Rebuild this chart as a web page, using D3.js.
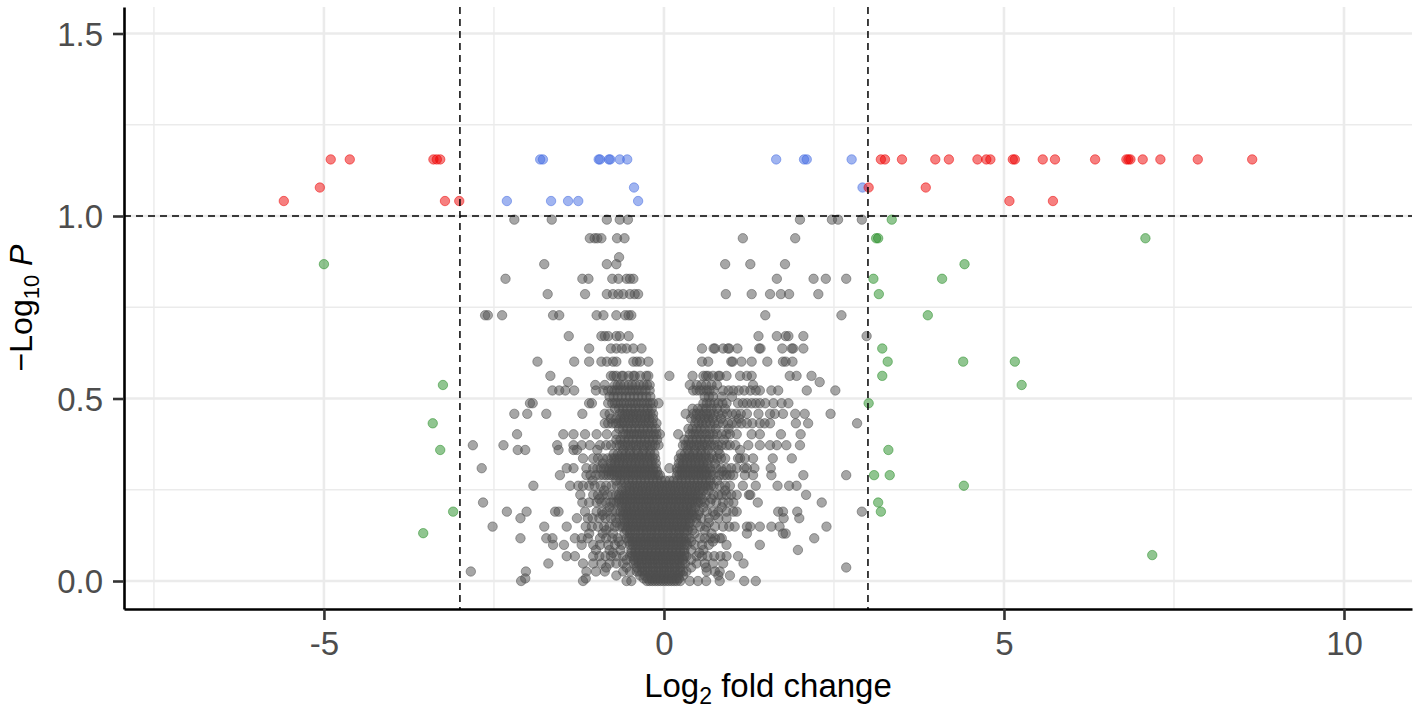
<!DOCTYPE html>
<html lang="en">
<head>
<meta charset="UTF-8">
<title>Volcano plot</title>
<script src="https://cdn.jsdelivr.net/npm/d3@7"></script>
<style>
  body { margin: 0; background: #fff; }
  svg text { font-family: "Liberation Sans", Arial, sans-serif; }
</style>
</head>
<body>
<div id="viz"></div>
<script>
// ticks and cut-offs
var xTicks = [-5, 0, 5, 10];
var yTicks = [0, 0.5, 1.0, 1.5];
var xMinor = [-7.5, -2.5, 2.5, 7.5];
var yMinor = [0.25, 0.75, 1.25];
var fcCutoff = 3;   // |log2 FC|
var pCutoff = 1;    // -log10 P

// NS genes (grey): -log10 P levels and the log2 fold changes read on each level
var nsLevels = [0.990, 0.939, 0.887, 0.868, 0.828, 0.786, 0.728, 0.671, 0.637, 0.601,
  0.562, 0.545, 0.537, 0.522, 0.505, 0.487, 0.472, 0.458, 0.445, 0.432,
  0.417, 0.402, 0.387, 0.372, 0.359, 0.348, 0.336, 0.322, 0.309, 0.300,
  0.290, 0.275, 0.261, 0.248, 0.236, 0.225, 0.215, 0.202, 0.190, 0.181,
  0.172, 0.160, 0.149, 0.139, 0.130, 0.117, 0.108, 0.099, 0.085, 0.077,
  0.068, 0.058, 0.048, 0.037, 0.026, 0.015, 0.007, 0.000];
var nsFoldChanges = [
  [-2.20, -1.65, -0.84, -0.65, -0.53, 2.00, 2.47, 2.56, 2.91],
  [-1.09, -1.02, -0.98, -0.92, -0.69, -0.58, 1.16, 1.93],
  [-0.66],
  [-1.76, -0.84, -0.70, 0.90, 1.27, 1.78],
  [-2.33, -1.20, -1.11, -0.76, -0.67, -0.55, -0.50, -0.45, 1.66, 2.20, 2.38, 2.68],
  [-1.71, -1.16, -0.84, -0.75, -0.67, -0.60, -0.50, -0.43, -0.38, 0.91, 1.29, 1.56, 1.72, 1.84, 2.27],
  [-2.63, -2.59, -2.38, -1.63, -1.54, -0.99, -0.89, -0.70, -0.57, -0.52, -0.48, 1.49, 2.61],
  [-1.40, -0.92, -0.87, -0.82, -0.70, -0.65, -0.52, 1.39, 1.66, 1.79, 1.83, 2.05, 2.98],
  [-1.10, -0.78, -0.70, -0.62, -0.55, -0.45, -0.33, 0.56, 0.73, 0.75, 0.87, 0.94, 0.96, 1.08, 1.40, 1.42, 1.74, 1.88, 1.90, 2.05],
  [-1.86, -1.32, -1.10, -0.92, -0.84, -0.75, -0.70, -0.45, -0.40, -0.35, -0.23, 0.56, 0.65, 0.99, 1.01, 1.14, 1.29, 1.52, 1.75, 1.79, 1.89],
  [-1.67, -0.78, -0.74, -0.70, -0.62, -0.60, -0.52, -0.45, -0.43, -0.35, -0.26, -0.23, 0.08, 0.42, 0.58, 0.62, 0.65, 0.72, 0.80, 0.82, 0.92, 1.12, 1.22, 1.29, 1.85, 1.95, 2.17],
  [-1.41, 2.29],
  [-1.01, -0.87, -0.72, -0.68, -0.64, -0.58, -0.52, -0.47, -0.42, -0.36, -0.30, -0.25, -0.21, 0.38, 0.48, 0.55, 0.62, 0.70, 0.78, 1.31],
  [-1.64, -1.54, -1.45, -1.32, -1.00, -0.89, -0.82, -0.77, -0.73, -0.69, -0.64, -0.59, -0.55, -0.50, -0.46, -0.41, -0.37, -0.32, -0.27, -0.21, 0.43, 0.48, 0.53, 0.58, 0.63, 0.67, 0.73, 0.87, 0.95, 1.02, 1.10, 1.18, 1.27, 1.35, 1.41, 1.58, 1.68, 2.10, 2.52],
  [-0.80, -0.74, -0.68, -0.62, -0.56, -0.50, -0.44, -0.38, -0.32, -0.26, -0.20, 0.60, 0.66, 0.72, 0.85, 1.00],
  [-1.97, -1.93, -1.10, -1.06, -0.82, -0.76, -0.72, -0.68, -0.63, -0.59, -0.55, -0.50, -0.46, -0.42, -0.38, -0.33, -0.29, -0.24, -0.20, -0.16, -0.08, 0.58, 0.63, 0.68, 0.74, 0.80, 0.86, 0.92, 1.09, 1.16, 1.22, 1.29, 1.35, 1.41, 1.49, 1.61, 1.73, 1.83],
  [-0.72, -0.66, -0.60, -0.54, -0.48, -0.42, -0.36, -0.30, -0.24, -0.18, 0.42, 0.50, 0.56, 0.62, 0.70, 0.78, 0.90],
  [-2.20, -2.01, -1.73, -1.20, -0.87, -0.80, -0.65, -0.61, -0.57, -0.53, -0.49, -0.45, -0.41, -0.37, -0.33, -0.28, -0.24, -0.20, -0.16, 0.32, 0.43, 0.48, 0.53, 0.58, 0.63, 0.68, 0.73, 0.80, 0.86, 0.93, 1.00, 1.06, 1.13, 1.22, 1.39, 1.56, 1.63, 1.75, 1.93, 2.07, 2.45],
  [-0.78, -0.70, -0.64, -0.58, -0.52, -0.46, -0.40, -0.34, -0.28, -0.22, -0.16, 0.40, 0.47, 0.54, 0.60, 0.66, 0.72, 0.84, 1.10],
  [-0.87, -0.82, -0.76, -0.71, -0.67, -0.62, -0.58, -0.53, -0.49, -0.44, -0.40, -0.35, -0.31, -0.26, -0.22, -0.17, -0.11, 0.46, 0.51, 0.56, 0.62, 0.68, 0.74, 0.80, 0.87, 0.94, 1.00, 1.07, 1.14, 1.22, 1.30, 1.41, 1.48, 1.56, 1.94, 2.12, 2.84],
  [-0.66, -0.60, -0.54, -0.48, -0.42, -0.36, -0.30, -0.24, -0.18, -0.12, 0.36, 0.42, 0.48, 0.54, 0.60, 0.68, 0.76, 0.95],
  [-2.16, -1.48, -1.33, -1.16, -0.99, -0.84, -0.70, -0.60, -0.56, -0.52, -0.48, -0.44, -0.40, -0.36, -0.32, -0.28, -0.24, -0.20, -0.15, -0.11, -0.06, 0.21, 0.38, 0.43, 0.47, 0.52, 0.57, 0.62, 0.67, 0.72, 0.78, 0.85, 0.92, 0.97, 1.07, 1.29, 1.41, 1.72, 2.01],
  [-0.70, -0.64, -0.58, -0.52, -0.46, -0.40, -0.34, -0.28, -0.22, -0.16, -0.10, 0.30, 0.36, 0.42, 0.48, 0.54, 0.60, 0.66, 0.74, 0.88],
  [-2.81, -2.36, -1.57, -1.33, -1.21, -1.09, -0.94, -0.85, -0.78, -0.70, -0.65, -0.61, -0.57, -0.53, -0.49, -0.45, -0.41, -0.37, -0.33, -0.29, -0.25, -0.21, -0.17, -0.13, -0.08, 0.28, 0.32, 0.36, 0.40, 0.44, 0.48, 0.52, 0.56, 0.60, 0.64, 0.69, 0.74, 0.79, 0.85, 0.92, 0.97, 1.05, 1.24, 1.41, 1.56, 1.66, 1.80, 2.00],
  [-2.15, -2.04, -1.55, -1.33, -1.28, -0.98, -0.60, -0.50, -0.40, -0.30, -0.20, 0.35, 0.45, 0.55, 0.65, 0.80, 1.12],
  [-0.74, -0.68, -0.62, -0.56, -0.50, -0.44, -0.38, -0.32, -0.26, -0.20, -0.14, 0.25, 0.31, 0.37, 0.43, 0.49, 0.55, 0.61, 0.70, 0.82],
  [-1.19, -1.04, -0.97, -0.90, -0.83, -0.77, -0.73, -0.69, -0.65, -0.61, -0.57, -0.53, -0.49, -0.45, -0.41, -0.37, -0.33, -0.29, -0.25, -0.21, -0.17, -0.13, 0.22, 0.26, 0.30, 0.34, 0.38, 0.42, 0.46, 0.50, 0.54, 0.58, 0.62, 0.67, 0.72, 0.78, 0.84, 0.90, 1.09, 1.12, 1.19, 1.31, 1.60, 1.88],
  [-0.90, -0.78, -0.72, -0.66, -0.60, -0.54, -0.48, -0.42, -0.36, -0.30, -0.24, -0.18, -0.12, 0.22, 0.28, 0.34, 0.40, 0.46, 0.52, 0.58, 0.64, 0.75],
  [-2.68, -1.43, -1.33, -1.14, -1.04, -0.98, -0.93, -0.88, -0.84, -0.80, -0.76, -0.72, -0.68, -0.64, -0.60, -0.56, -0.52, -0.48, -0.44, -0.40, -0.36, -0.32, -0.28, -0.24, -0.20, -0.16, -0.12, 0.08, 0.19, 0.23, 0.27, 0.31, 0.35, 0.39, 0.43, 0.47, 0.51, 0.55, 0.59, 0.63, 0.68, 0.77, 0.84, 0.92, 0.99, 1.07, 1.18, 1.22, 1.33, 1.57],
  [-0.82, -0.76, -0.70, -0.64, -0.58, -0.52, -0.46, -0.40, -0.34, -0.28, -0.22, -0.16, -0.10, 0.20, 0.26, 0.32, 0.38, 0.44, 0.50, 0.56, 0.62, 0.70, 0.86],
  [-1.53, -1.14, -1.08, -1.00, -0.94, -0.89, -0.85, -0.81, -0.77, -0.73, -0.69, -0.65, -0.61, -0.57, -0.53, -0.49, -0.45, -0.41, -0.37, -0.33, -0.29, -0.25, -0.21, -0.17, -0.13, -0.09, -0.06, 0.19, 0.23, 0.27, 0.31, 0.35, 0.39, 0.43, 0.47, 0.51, 0.55, 0.59, 0.63, 0.68, 0.73, 0.82, 0.88, 0.92, 0.97, 1.02, 1.19, 1.31, 1.58, 2.05, 2.68],
  [-1.05, -0.70, -0.64, -0.58, -0.52, -0.46, -0.40, -0.34, -0.28, -0.22, -0.16, -0.10, -0.04, 0.02, 0.08, 0.14, 0.20, 0.26, 0.32, 0.38, 0.44, 0.50, 0.56, 0.62, 0.68, 0.78],
  [-1.92, -1.38, -1.26, -1.19, -1.10, -1.02, -0.93, -0.85, -0.77, -0.69, -0.62, -0.55, -0.51, -0.47, -0.43, -0.39, -0.35, -0.31, -0.27, -0.23, -0.19, -0.15, -0.11, -0.07, -0.03, 0.01, 0.05, 0.09, 0.13, 0.17, 0.21, 0.25, 0.29, 0.33, 0.37, 0.41, 0.45, 0.49, 0.53, 0.57, 0.61, 0.65, 0.69, 0.73, 0.82, 0.90, 0.97, 1.16, 1.35, 1.67, 1.84, 1.95],
  [-0.88, -0.62, -0.56, -0.50, -0.44, -0.38, -0.32, -0.26, -0.20, -0.14, -0.08, -0.02, 0.04, 0.10, 0.16, 0.22, 0.28, 0.34, 0.40, 0.46, 0.52, 0.58, 0.66, 0.90],
  [-1.23, -1.04, -0.97, -0.90, -0.83, -0.76, -0.70, -0.66, -0.62, -0.58, -0.54, -0.50, -0.46, -0.42, -0.38, -0.34, -0.30, -0.26, -0.22, -0.18, -0.14, -0.10, -0.06, -0.02, 0.02, 0.06, 0.10, 0.14, 0.18, 0.22, 0.26, 0.30, 0.34, 0.38, 0.42, 0.46, 0.50, 0.54, 0.62, 0.73, 0.80, 0.85, 0.92, 0.99, 1.07, 1.25, 1.27, 2.09],
  [-0.95, -0.66, -0.60, -0.54, -0.48, -0.42, -0.36, -0.30, -0.24, -0.18, -0.12, -0.06, 0.00, 0.06, 0.12, 0.18, 0.24, 0.30, 0.36, 0.42, 0.48, 0.56, 0.70],
  [-2.66, -1.20, -1.10, -0.99, -0.92, -0.85, -0.78, -0.74, -0.70, -0.66, -0.62, -0.58, -0.54, -0.50, -0.46, -0.42, -0.38, -0.34, -0.30, -0.26, -0.22, -0.18, -0.14, -0.10, -0.06, -0.02, 0.02, 0.06, 0.10, 0.14, 0.18, 0.22, 0.26, 0.30, 0.34, 0.38, 0.42, 0.46, 0.50, 0.54, 0.60, 0.68, 0.77, 0.87, 0.95, 1.02, 1.38, 2.32],
  [-0.80, -0.62, -0.56, -0.50, -0.44, -0.38, -0.32, -0.26, -0.20, -0.14, -0.08, -0.02, 0.04, 0.10, 0.16, 0.22, 0.28, 0.34, 0.40, 0.46, 0.58, 0.85],
  [-2.31, -2.02, -1.60, -1.55, -1.16, -0.99, -0.91, -0.84, -0.76, -0.70, -0.64, -0.60, -0.56, -0.52, -0.48, -0.44, -0.40, -0.36, -0.32, -0.28, -0.24, -0.20, -0.16, -0.12, -0.08, -0.04, 0.00, 0.04, 0.08, 0.12, 0.16, 0.20, 0.24, 0.28, 0.32, 0.36, 0.40, 0.44, 0.52, 0.63, 0.72, 0.80, 0.92, 1.02, 1.07, 1.68, 1.75, 1.96, 2.91],
  [-0.90, -0.60, -0.54, -0.48, -0.42, -0.36, -0.30, -0.24, -0.18, -0.12, -0.06, 0.00, 0.06, 0.12, 0.18, 0.24, 0.30, 0.36, 0.42, 0.50, 0.75],
  [-2.11, -1.28, -1.12, -1.05, -0.95, -0.86, -0.78, -0.71, -0.65, -0.59, -0.55, -0.51, -0.47, -0.43, -0.39, -0.35, -0.31, -0.27, -0.23, -0.19, -0.15, -0.11, -0.07, -0.03, 0.01, 0.05, 0.09, 0.13, 0.17, 0.21, 0.25, 0.29, 0.33, 0.37, 0.41, 0.47, 0.55, 0.66, 0.80, 0.92, 1.76, 1.99],
  [-0.70, -0.58, -0.52, -0.46, -0.40, -0.34, -0.28, -0.22, -0.16, -0.10, -0.04, 0.02, 0.08, 0.14, 0.20, 0.26, 0.32, 0.38, 0.48, 0.66],
  [-2.52, -1.76, -1.43, -1.15, -1.06, -0.97, -0.88, -0.80, -0.72, -0.65, -0.61, -0.57, -0.53, -0.49, -0.45, -0.41, -0.37, -0.33, -0.29, -0.25, -0.21, -0.17, -0.13, -0.09, -0.05, -0.01, 0.03, 0.07, 0.11, 0.15, 0.19, 0.23, 0.27, 0.31, 0.35, 0.38, 0.53, 0.62, 0.75, 0.87, 0.96, 1.04, 1.22, 1.27, 1.41, 1.58, 1.70, 2.39],
  [-0.85, -0.55, -0.49, -0.43, -0.37, -0.31, -0.25, -0.19, -0.13, -0.07, -0.01, 0.05, 0.11, 0.17, 0.23, 0.29, 0.35, 0.42, 0.60],
  [-1.10, -0.90, -0.75, -0.58, -0.50, -0.42, -0.34, -0.26, -0.18, -0.10, -0.02, 0.06, 0.14, 0.22, 0.30, 0.45, 0.70, 1.22, 1.75, 1.79],
  [-2.11, -1.73, -1.64, -1.31, -1.21, -1.12, -0.94, -0.85, -0.76, -0.68, -0.55, -0.51, -0.47, -0.43, -0.39, -0.35, -0.31, -0.27, -0.23, -0.19, -0.15, -0.11, -0.07, -0.03, 0.01, 0.05, 0.09, 0.13, 0.17, 0.21, 0.25, 0.29, 0.33, 0.38, 0.53, 0.60, 0.68, 0.75, 0.82, 0.85, 2.21],
  [-0.66, -0.52, -0.46, -0.40, -0.34, -0.28, -0.22, -0.16, -0.10, -0.04, 0.02, 0.08, 0.14, 0.20, 0.26, 0.32, 0.40, 0.72],
  [-1.63, -1.47, -1.21, -1.04, -0.94, -0.82, -0.72, -0.62, -0.50, -0.46, -0.42, -0.38, -0.34, -0.30, -0.26, -0.22, -0.18, -0.14, -0.10, -0.06, -0.02, 0.02, 0.06, 0.10, 0.14, 0.18, 0.22, 0.26, 0.30, 0.34, 0.45, 0.56, 0.66, 0.92, 1.41],
  [-1.00, -0.80, -0.64, -0.48, -0.42, -0.36, -0.30, -0.24, -0.18, -0.12, -0.06, 0.00, 0.06, 0.12, 0.18, 0.24, 0.30, 0.40, 0.58, 1.97],
  [-0.75, -0.48, -0.42, -0.36, -0.30, -0.24, -0.18, -0.12, -0.06, 0.00, 0.06, 0.12, 0.18, 0.24, 0.30, 0.52],
  [-1.43, -1.31, -1.04, -0.95, -0.86, -0.78, -0.70, -0.60, -0.50, -0.46, -0.42, -0.38, -0.34, -0.30, -0.26, -0.22, -0.18, -0.14, -0.10, -0.06, -0.02, 0.02, 0.06, 0.10, 0.14, 0.18, 0.22, 0.26, 0.30, 0.33, 0.48, 0.56, 0.64, 0.74, 0.83, 0.92, 1.09],
  [-0.55, -0.44, -0.38, -0.32, -0.26, -0.20, -0.14, -0.08, -0.02, 0.04, 0.10, 0.16, 0.22, 0.28, 0.40],
  [-1.70, -1.19, -1.04, -0.92, -0.80, -0.70, -0.60, -0.45, -0.41, -0.37, -0.33, -0.29, -0.25, -0.21, -0.17, -0.13, -0.09, -0.05, -0.01, 0.03, 0.07, 0.11, 0.15, 0.19, 0.23, 0.27, 0.31, 0.48, 0.60, 0.72, 0.87, 1.17],
  [-0.85, -0.55, -0.40, -0.32, -0.24, -0.16, -0.08, 0.00, 0.08, 0.16, 0.24, 0.40, 0.62, 2.68],
  [-2.84, -2.03, -1.14, -1.00, -0.87, -0.60, -0.50, -0.40, -0.36, -0.32, -0.28, -0.24, -0.20, -0.16, -0.12, -0.08, -0.04, 0.00, 0.04, 0.08, 0.12, 0.16, 0.20, 0.24, 0.28, 0.33, 0.63, 0.75, 0.82],
  [-0.70, -0.35, -0.28, -0.21, -0.14, -0.07, 0.00, 0.07, 0.14, 0.21, 0.28, 0.80, 0.97],
  [-2.04, -1.15, -0.30, -0.24, -0.18, -0.12, -0.06, 0.00, 0.06, 0.12, 0.18, 0.22],
  [-2.10, -1.19, -0.55, -0.48, -0.25, -0.21, -0.17, -0.13, -0.09, -0.05, -0.01, 0.03, 0.07, 0.11, 0.15, 0.19, 0.24, 0.38, 0.50, 0.62, 0.82, 1.18, 1.35]
];

// log2 FC only (green): [log2FC, -log10P]
var fcOnly = [[-5.00, 0.868], [-3.25, 0.537], [-3.40, 0.432], [-3.29, 0.359], [-3.10, 0.190], [-3.54, 0.131],
  [3.35, 0.990], [3.12, 0.939], [3.15, 0.939], [7.08, 0.939], [4.42, 0.868], [3.08, 0.828], [4.09, 0.828],
  [3.16, 0.786], [3.88, 0.728], [3.21, 0.637], [3.29, 0.601], [4.40, 0.601], [5.16, 0.601], [3.21, 0.562],
  [5.26, 0.537], [3.01, 0.487], [3.30, 0.359], [3.09, 0.290], [3.32, 0.290], [4.41, 0.261], [3.15, 0.215],
  [3.19, 0.190], [7.18, 0.071]];

// P only (blue)
var pOnly = [[-1.82, 1.155], [-1.78, 1.155], [-0.96, 1.155], [-0.94, 1.155], [-0.81, 1.155], [-0.79, 1.155],
  [-0.65, 1.155], [-0.54, 1.155], [1.65, 1.155], [2.06, 1.155], [2.10, 1.155], [2.76, 1.155],
  [-0.44, 1.078], [2.92, 1.078],
  [-2.31, 1.041], [-1.66, 1.041], [-1.41, 1.041], [-1.26, 1.041], [-0.38, 1.041]];

// P and log2 FC (red)
var fcAndP = [[-4.90, 1.155], [-4.62, 1.155], [-3.39, 1.155], [-3.34, 1.155], [-3.29, 1.155],
  [3.19, 1.155], [3.25, 1.155], [3.50, 1.155], [3.99, 1.155], [4.19, 1.155], [4.61, 1.155], [4.74, 1.155],
  [4.80, 1.155], [5.13, 1.155], [5.16, 1.155], [5.57, 1.155], [5.75, 1.155], [6.34, 1.155], [6.80, 1.155],
  [6.83, 1.155], [6.86, 1.155], [7.04, 1.155], [7.30, 1.155], [7.85, 1.155], [8.65, 1.155],
  [-5.06, 1.078], [3.01, 1.078], [3.85, 1.078],
  [-5.59, 1.041], [-3.22, 1.041], [-3.01, 1.041], [5.08, 1.041], [5.72, 1.041]];

var w = 1418, h = 712;
var panel = {left: 124, right: 1412, top: 7, bottom: 609};

var x = d3.scaleLinear().domain([-7.94, 11.0]).range([panel.left, panel.right]);
var y = d3.scaleLinear().domain([-0.0767, 1.5726]).range([panel.bottom, panel.top]);

var svg = d3.select("#viz").append("svg")
    .attr("width", w)
    .attr("height", h);

// grid
var grid = svg.append("g").attr("class", "grid").attr("stroke", "#ebebeb");
grid.selectAll(".xminor").data(xMinor).enter().append("line")
    .attr("x1", d => x(d)).attr("x2", d => x(d))
    .attr("y1", panel.top).attr("y2", panel.bottom)
    .attr("stroke-width", 1.4);
grid.selectAll(".yminor").data(yMinor).enter().append("line")
    .attr("x1", panel.left).attr("x2", panel.right)
    .attr("y1", d => y(d)).attr("y2", d => y(d))
    .attr("stroke-width", 1.4);
grid.selectAll(".xmajor").data(xTicks).enter().append("line")
    .attr("x1", d => x(d)).attr("x2", d => x(d))
    .attr("y1", panel.top).attr("y2", panel.bottom)
    .attr("stroke-width", 2.6);
grid.selectAll(".ymajor").data(yTicks).enter().append("line")
    .attr("x1", panel.left).attr("x2", panel.right)
    .attr("y1", d => y(d)).attr("y2", d => y(d))
    .attr("stroke-width", 2.6);

// points
var nsPoints = [];
nsLevels.forEach(function(lv, i) {
    nsFoldChanges[i].forEach(function(fc) { nsPoints.push([fc, lv]); });
});

function drawPoints(data, colour) {
    svg.append("g").selectAll("circle")
        .data(data)
        .enter().append("circle")
        .attr("cx", d => x(d[0]))
        .attr("cy", d => y(d[1]))
        .attr("r", 4.7)
        .attr("fill", colour)
        .attr("fill-opacity", 0.5)
        .attr("stroke", colour)
        .attr("stroke-opacity", 0.5)
        .attr("stroke-width", 1);
}
drawPoints(nsPoints, "#4d4d4d");
drawPoints(fcOnly, "#228b22");
drawPoints(pOnly, "#4169e1");
drawPoints(fcAndP, "#ee0000");

// cut-off lines
var cut = svg.append("g")
    .attr("stroke", "#000")
    .attr("stroke-width", 1.5)
    .attr("stroke-dasharray", "7,5");
[-fcCutoff, fcCutoff].forEach(function(v) {
    cut.append("line")
        .attr("x1", x(v)).attr("x2", x(v))
        .attr("y1", panel.top).attr("y2", panel.bottom);
});
cut.append("line")
    .attr("x1", panel.left).attr("x2", panel.right)
    .attr("y1", y(pCutoff)).attr("y2", y(pCutoff));

// axes
var xAxis = svg.append("g")
    .attr("transform", "translate(0," + panel.bottom + ")")
    .call(d3.axisBottom(x).tickValues(xTicks).tickSize(11).tickSizeOuter(0)
        .tickFormat(d => String(d)));
var yAxis = svg.append("g")
    .attr("transform", "translate(" + panel.left + ",0)")
    .call(d3.axisLeft(y).tickValues(yTicks).tickSize(11).tickSizeOuter(0)
        .tickFormat(d3.format(".1f")));

[xAxis, yAxis].forEach(function(a) {
    a.select(".domain").attr("stroke", "#000").attr("stroke-width", 2.6);
    a.selectAll(".tick line").attr("stroke", "#333").attr("stroke-width", 2.6);
    a.selectAll(".tick text")
        .attr("fill", "#4d4d4d")
        .style("font-size", "33px")
        .style("font-family", "'Liberation Sans', Arial, sans-serif");
});
xAxis.selectAll(".tick text").attr("y", 46).attr("dy", 0);
yAxis.selectAll(".tick text").attr("x", -21).attr("dy", "0.36em");

// titles
var xt = svg.append("text")
    .attr("x", (panel.left + panel.right) / 2)
    .attr("y", 697)
    .attr("text-anchor", "middle")
    .attr("fill", "#000")
    .style("font-size", "33px");
xt.append("tspan").text("Log");
xt.append("tspan").attr("dy", 7).style("font-size", "23px").text("2");
xt.append("tspan").attr("dy", -7).text(" fold change");

var yt = svg.append("text")
    .attr("transform", "translate(32," + ((panel.top + panel.bottom) / 2) + ") rotate(-90)")
    .attr("text-anchor", "middle")
    .attr("fill", "#000")
    .style("font-size", "32px");
yt.append("tspan").text("\u2212Log");
yt.append("tspan").attr("dy", 7).style("font-size", "22px").text("10");
yt.append("tspan").attr("dy", -7).text(" ");
yt.append("tspan").style("font-style", "italic").text("P");
</script>
</body>
</html>
